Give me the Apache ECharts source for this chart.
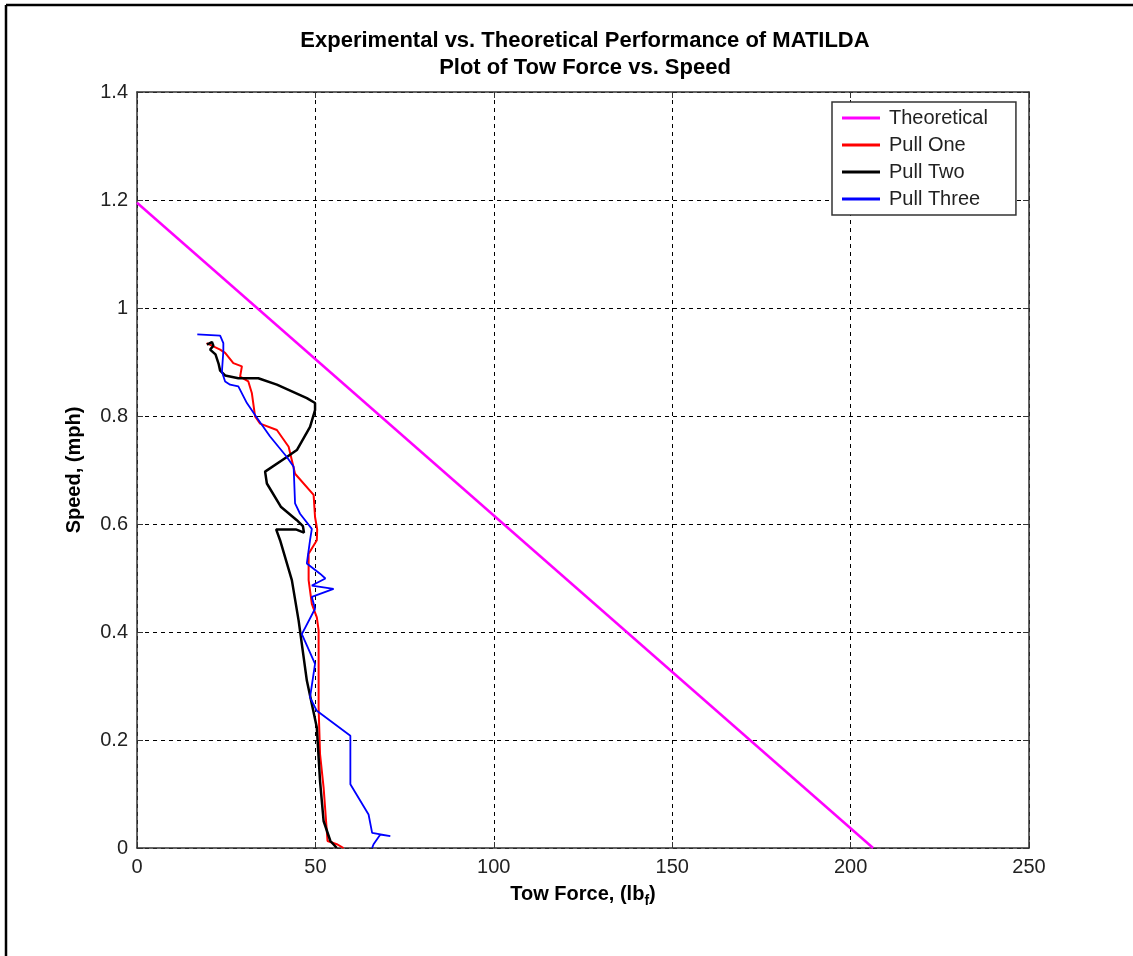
<!DOCTYPE html>
<html>
<head>
<meta charset="utf-8">
<script src="https://cdn.jsdelivr.net/npm/echarts@6/dist/echarts.min.js"></script>
<style>
html,body{margin:0;padding:0;background:#fff;}
#chart{width:1133px;height:956px;}
</style>
</head>
<body>
<div id="chart"></div>
<script>
// ---- data (tow force lbf, speed mph) ----
const seriesNames = ['Theoretical', 'Pull One', 'Pull Two', 'Pull Three'];
const xTicks = [0, 50, 100, 150, 200, 250];
const yTicks = [0, 0.2, 0.4, 0.6, 0.8, 1, 1.2, 1.4];

const theoretical = [[0, 1.195], [206.3, 0]];

const pullOne = [
  [19.5,0.935],[23.3,0.923],[24.7,0.917],[27.0,0.898],[29.4,0.892],[28.9,0.873],
  [31.2,0.864],[32.2,0.842],[33.1,0.799],[34.5,0.786],[39.2,0.774],[42.5,0.743],
  [43.4,0.718],[44.3,0.693],[49.5,0.654],[49.9,0.613],[50.5,0.590],[50.4,0.570],
  [48.1,0.545],[48.1,0.496],[49.0,0.452],[50.4,0.427],[50.9,0.403],[50.9,0.260],
  [51.3,0.174],[52.3,0.112],[53.4,0.013],[56.0,0.007],[57.9,0.0]
];

const pullTwo = [
  [19.6,0.932],[21.0,0.937],[21.4,0.930],[20.5,0.923],[22.0,0.914],[22.9,0.896],
  [23.3,0.884],[24.7,0.875],[28.4,0.870],[34.0,0.870],[39.2,0.858],[47.6,0.833],
  [49.9,0.824],[49.9,0.811],[48.5,0.780],[44.8,0.737],[42.0,0.724],[35.9,0.697],
  [36.4,0.675],[40.3,0.632],[44.8,0.607],[46.5,0.596],[46.8,0.584],[44.5,0.590],
  [39.0,0.590],[40.1,0.570],[43.4,0.496],[45.3,0.421],[47.6,0.310],[50.4,0.223],
  [51.3,0.124],[52.3,0.050],[54.2,0.013],[56.0,0.0]
];

const pullThree = [
  [16.9,0.951],[23.3,0.949],[24.2,0.935],[24.2,0.920],[23.8,0.882],[24.7,0.864],
  [26.1,0.858],[28.4,0.855],[30.8,0.824],[34.0,0.793],[37.3,0.762],[42.0,0.724],
  [43.9,0.706],[44.3,0.638],[45.7,0.619],[49.0,0.591],[48.5,0.570],[47.6,0.527],
  [51.3,0.508],[52.8,0.499],[49.0,0.486],[55.1,0.480],[49.0,0.465],[49.9,0.443],
  [46.2,0.396],[49.9,0.341],[48.5,0.279],[50.4,0.254],[59.8,0.208],[59.8,0.118],
  [64.9,0.062],[65.9,0.028],[71.0,0.022],[68.2,0.025],[66.3,0.007],[65.9,0.0]
];

const FONT = '"Liberation Sans", Arial, Helvetica, sans-serif';
const chart = echarts.init(document.getElementById('chart'), null, {renderer: 'canvas'});

const gridLine = {show: true, lineStyle: {color: '#000', type: [4, 4], width: 1}};
const frameLine = {show: true, onZero: false, lineStyle: {color: '#333', width: 1.5}};
const tick = {show: true, inside: true, length: 6, lineStyle: {color: '#333', width: 1}};
const tickLabel = {color: '#222', fontSize: 20, fontFamily: FONT};

const option = {
  animation: false,
  backgroundColor: '#fff',
  title: {
    text: 'Experimental vs. Theoretical Performance of MATILDA\nPlot of Tow Force vs. Speed',
    left: 585,
    top: 27,
    padding: 0,
    textAlign: 'center',
    textStyle: {fontSize: 22, fontWeight: 'bold', color: '#000', fontFamily: FONT, lineHeight: 27}
  },
  legend: {
    orient: 'vertical',
    left: 832,
    top: 102,
    data: seriesNames,
    icon: 'rect',
    itemWidth: 38,
    itemHeight: 3,
    itemGap: 7,
    padding: [6, 28, 6, 10],
    borderColor: '#333',
    borderWidth: 1.5,
    backgroundColor: '#fff',
    textStyle: {fontSize: 20, color: '#222', fontFamily: FONT, padding: [0, 0, 0, 4], lineHeight: 20}
  },
  grid: {left: 137, right: 104, top: 92, bottom: 108, containLabel: false},
  xAxis: [{
    type: 'value', min: xTicks[0], max: xTicks[xTicks.length - 1], interval: 50,
    position: 'bottom',
    axisLine: frameLine, axisTick: tick, splitLine: gridLine,
    axisLabel: Object.assign({margin: 9}, tickLabel),
    name: '{b|Tow Force, (lb}{s|f}{b|)}',
    nameLocation: 'middle',
    nameGap: 33,
    nameTextStyle: {
      rich: {
        b: {fontSize: 20, fontWeight: 'bold', color: '#000', fontFamily: FONT, lineHeight: 24},
        s: {fontSize: 14, fontWeight: 'bold', color: '#000', fontFamily: FONT, lineHeight: 24, padding: [12, 0, 0, 0]}
      }
    }
  }, {
    type: 'value', min: xTicks[0], max: xTicks[xTicks.length - 1], interval: 50,
    position: 'top',
    axisLine: frameLine, axisTick: tick, splitLine: {show: false}, axisLabel: {show: false}
  }],
  yAxis: [{
    type: 'value', min: yTicks[0], max: yTicks[yTicks.length - 1], interval: 0.2,
    position: 'left',
    axisLine: frameLine, axisTick: tick, splitLine: gridLine,
    axisLabel: Object.assign({margin: 9}, tickLabel),
    name: 'Speed, (mph)',
    nameLocation: 'middle',
    nameGap: 53,
    nameTextStyle: {fontSize: 20, fontWeight: 'bold', color: '#000', fontFamily: FONT}
  }, {
    type: 'value', min: yTicks[0], max: yTicks[yTicks.length - 1], interval: 0.2,
    position: 'right',
    axisLine: frameLine, axisTick: tick, splitLine: {show: false}, axisLabel: {show: false}
  }],
  graphic: [
    {type: 'line', shape: {x1: 6, y1: 5, x2: 1133, y2: 5}, style: {stroke: '#000', lineWidth: 2.5}, silent: true},
    {type: 'line', shape: {x1: 6, y1: 5, x2: 6, y2: 956}, style: {stroke: '#000', lineWidth: 2.5}, silent: true}
  ],
  series: [
    {name: seriesNames[0], type: 'line', data: theoretical, symbol: 'none', color: '#ff00ff',
     lineStyle: {color: '#ff00ff', width: 2.5}, z: 3},
    {name: seriesNames[1], type: 'line', data: pullOne, symbol: 'none', color: '#ff0000',
     lineStyle: {color: '#ff0000', width: 2}, z: 3},
    {name: seriesNames[2], type: 'line', data: pullTwo, symbol: 'none', color: '#000000',
     lineStyle: {color: '#000000', width: 2.5}, z: 4},
    {name: seriesNames[3], type: 'line', data: pullThree, symbol: 'none', color: '#0000ff',
     lineStyle: {color: '#0000ff', width: 1.8}, z: 5}
  ]
};
chart.setOption(option);
</script>
</body>
</html>
